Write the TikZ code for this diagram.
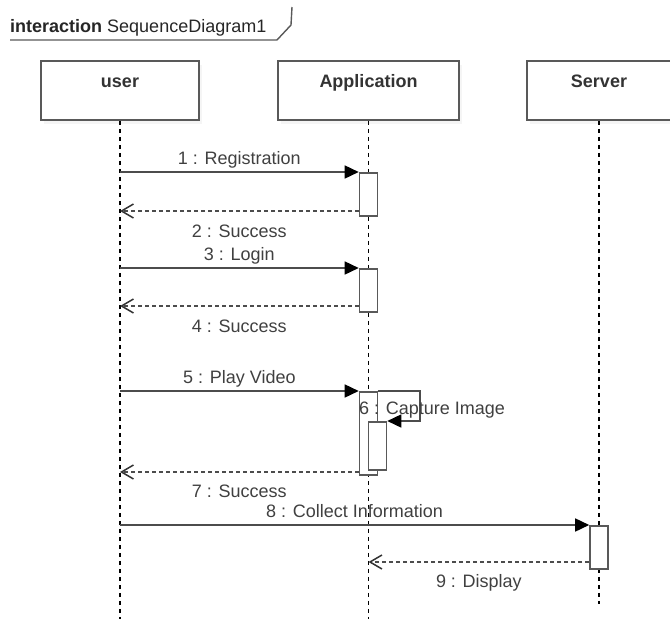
\documentclass[tikz,border=0pt]{standalone}
\usepackage{fontspec}
\setmainfont{Liberation Sans}
\usetikzlibrary{arrows.meta,shadows}

\begin{document}
\begin{tikzpicture}[x=1pt, y=-1pt, font=\fontsize{18}{21}\selectfont,
		head_style/.style={draw=black!65, line width=1.6pt, fill=white, minimum height=59pt, text height=13pt, text depth=20pt, font=\fontsize{18}{21}\selectfont\bfseries, text=black!80, drop shadow={shadow xshift=3pt, shadow yshift=-4pt, fill=black!8}},
		act_style/.style={draw=black!65, line width=1.6pt, fill=white, minimum width=18pt, inner sep=0pt, anchor=north},
		life_style/.style={draw=black, line width=1.1pt, dash pattern=on 4pt off 4pt},
		call_style/.style={draw=black!70, line width=1.6pt, -{Triangle[length=14pt,width=13pt,color=black]}},
		reply_style/.style={draw=black!70, line width=1.5pt, dash pattern=on 4pt off 3pt, -{Straight Barb[length=12pt,width=14pt,color=black!80]}},
		text_style/.style={text=black!75, text height=12pt, text depth=3.5pt}]
		
		\useasboundingbox (0,0) rectangle (670,619);
		
		% frame tab
		\node[text_style, text=black!85, anchor=base west, inner sep=0pt] (title) at (10,32) {\textbf{interaction} SequenceDiagram1};
		\draw[draw=black!65, line width=1.4pt] (10,40) -- (277,40) -- (291,25) -- (292,7);
		
		% lifeline heads
		\node[head_style, minimum width=158pt] (user) at (120,90.5) {user};
		\node[head_style, minimum width=181pt] (app) at (368.5,90.5) {Application};
		\node[head_style, minimum width=144pt] (server) at (599,90.5) {Server};
		
		\coordinate (user_end) at (120,619);
		\coordinate (app_end) at (368.5,619);
		\coordinate (server_end) at (599,604);
		\draw[life_style] (user) -- (user_end);
		\draw[life_style] (app) -- (app_end);
		\draw[life_style] (server) -- (server_end);
		
		% activations
		\node[act_style, minimum height=43pt] (act1) at (368.5,172) {};
		\node[act_style, minimum height=43pt] (act3) at (368.5,268) {};
		\node[act_style, minimum height=83pt] (act5) at (368.5,391) {};
		\node[act_style, minimum height=48pt] (act6) at (377.5,421) {};
		\node[act_style, minimum height=43pt] (act8) at (599,525) {};
		
		% messages
		\coordinate (m1) at (120,172);
		\coordinate (r2) at (120,211);
		\coordinate (m3) at (120,268);
		\coordinate (r4) at (120,306);
		\coordinate (m5) at (120,391);
		\coordinate (loop_c) at (420,406);
		\coordinate (r7) at (120,472);
		\coordinate (m8) at (120,525);
		\coordinate (r9) at (368.5,562);
		
		\draw[call_style]  (m1) -- node[text_style, above] {1 : Registration} (act1.north west);
		\draw[reply_style] (act1.west |- r2) -- node[text_style, below=10pt] {2 : Success} (r2);
		\draw[call_style]  (m3) -- node[text_style, above] {3 : Login} (act3.north west);
		\draw[reply_style] (act3.west |- r4) -- node[text_style, below=10pt] {4 : Success} (r4);
		\draw[call_style]  (m5) -- node[text_style, above] {5 : Play Video} (act5.north west);
		\draw[call_style]  (act5.north east) -| (loop_c) |- (act6.north east);
		\node[text_style, anchor=base west, inner sep=0pt] (cap_label) at (359,414) {6 : Capture Image};
		\draw[reply_style] (act5.west |- r7) -- node[text_style, below=9pt] {7 : Success} (r7);
		\draw[call_style]  (m8) -- node[text_style, above] {8 : Collect Information} (act8.north west);
		\draw[reply_style] (act8.west |- r9) -- node[text_style, below=9pt] {9 : Display} (r9);
		
\end{tikzpicture}
\end{document}
